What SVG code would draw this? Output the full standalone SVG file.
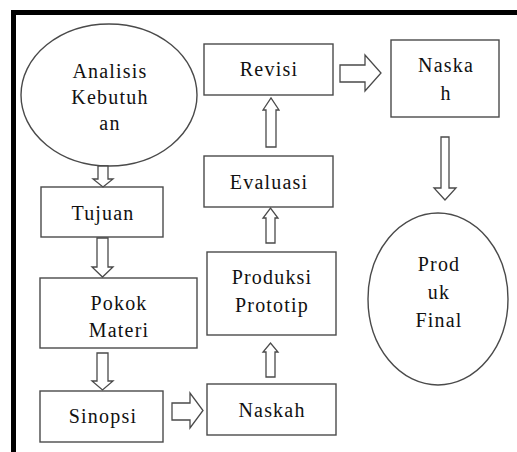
<svg xmlns="http://www.w3.org/2000/svg" width="517" height="452" viewBox="0 0 517 452">
<style>
.n{fill:#fff;stroke:#4a4a4a;stroke-width:1.4}
.a{fill:#fff;stroke:#4a4a4a;stroke-width:1.3;stroke-linejoin:miter}
</style>
<rect width="517" height="452" fill="#fff"/>
<path d="M13.5,452 V12.5 H517" fill="none" stroke="#000" stroke-width="5"/>
<g font-family="Liberation Serif, DejaVu Serif, serif" font-size="20" fill="#111" text-anchor="middle" letter-spacing="1.2">
<g id="analisis"><ellipse class="n" cx="109" cy="95" rx="88" ry="71"/><text x="110" y="78">Analisis</text><text x="110" y="104">Kebutuh</text><text x="110" y="130">an</text></g>
<g id="tujuan"><rect class="n" x="41" y="187" width="122" height="50"/><text x="103" y="220">Tujuan</text></g>
<g id="pokok"><rect class="n" x="40" y="278" width="157" height="70"/><text x="119" y="310">Pokok</text><text x="119" y="337">Materi</text></g>
<g id="sinopsi"><rect class="n" x="40" y="391" width="123" height="51"/><text x="103" y="423">Sinopsi</text></g>
<g id="naskah1"><rect class="n" x="207" y="384" width="129" height="51"/><text x="272" y="417">Naskah</text></g>
<g id="produksi"><rect class="n" x="207" y="252" width="129" height="83"/><text x="272" y="284">Produksi</text><text x="272" y="312">Prototip</text></g>
<g id="evaluasi"><rect class="n" x="204" y="156" width="129" height="51"/><text x="269" y="189">Evaluasi</text></g>
<g id="revisi"><rect class="n" x="204" y="44" width="129" height="51"/><text x="269" y="76">Revisi</text></g>
<g id="naskah2"><rect class="n" x="391" y="40" width="108" height="77"/><text x="446" y="72">Naska</text><text x="446" y="100">h</text></g>
<g id="produk"><ellipse class="n" cx="438" cy="299" rx="70" ry="86"/><text x="439" y="271">Prod</text><text x="439" y="299">uk</text><text x="439" y="327">Final</text></g>
</g>
<g id="connectors">
<polygon class="a" points="98,166 108,166 108,179 113,179 103,187 93,179 98,179"/>
<polygon class="a" points="97,238 108,238 108,267 113,267 102.5,277 92,267 97,267"/>
<polygon class="a" points="97,353 108,353 108,381 113,381 102.5,390 92,381 97,381"/>
<polygon class="a" points="172,403 190,403 190,393 203,410.5 190,428 190,420 172,420"/>
<polygon class="a" points="266,377 275,377 275,352 278,352 270.5,343 263,352 266,352"/>
<polygon class="a" points="266,243 275,243 275,218 278,218 270.5,208 263,218 266,218"/>
<polygon class="a" points="266,147 276,147 276,110 279,110 271,98 263,110 266,110"/>
<polygon class="a" points="340,65 365,65 365,55 381,73 365,91 365,82 340,82"/>
<polygon class="a" points="441,137 449,137 449,188 456,188 445,200 434,188 441,188"/>
</g>
</svg>
